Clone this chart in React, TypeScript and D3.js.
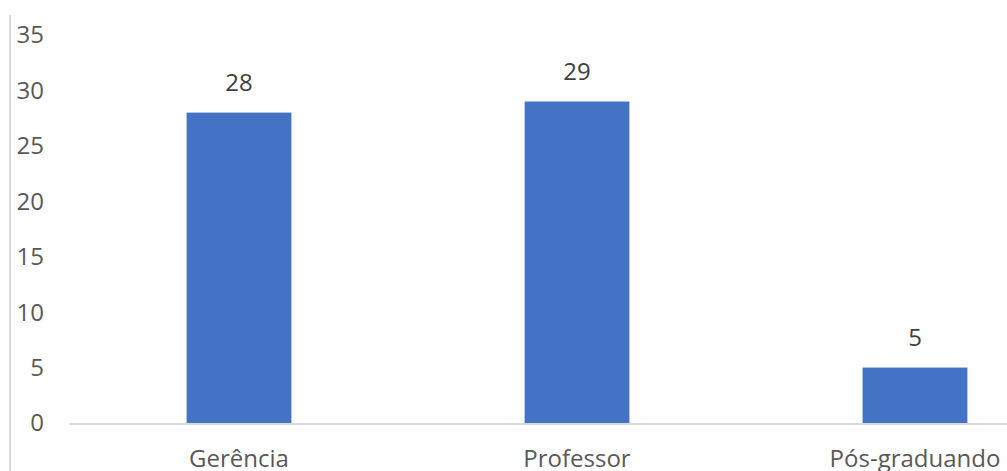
import React, { useEffect, useRef } from "react";
import * as d3 from "d3";

const categories = ["Gerência", "Professor", "Pós-graduando"];
const values = [28, 29, 5];
const yTicks = [0, 5, 10, 15, 20, 25, 30, 35];

const W = 1007;
const H = 471;

export default function App() {
  const ref = useRef<SVGSVGElement>(null);
  useEffect(() => {
    const svg = d3.select(ref.current);
    svg.selectAll("*").remove();
    const font = "'Open Sans', 'Noto Sans', sans-serif";
    const x = d3.scaleBand<string>().domain(categories).range([70, 1084]).paddingInner(0.69).paddingOuter(0.345);
    const y = d3.scaleLinear().domain([0, 35]).range([423, 35]);

    svg.append("rect").attr("width", W).attr("height", H).attr("fill", "#fff");
    svg.append("line").attr("x1", 10).attr("x2", 10).attr("y1", 15).attr("y2", H).attr("stroke", "#d9d9d9").attr("stroke-width", 2);

    svg.append("g").selectAll("text").data(yTicks).join("text")
      .attr("x", 44).attr("y", (d) => y(d)).attr("dy", "0.35em")
      .attr("text-anchor", "end").attr("font-family", font).attr("font-size", 24).attr("fill", "#595959")
      .text((d) => String(d));

    svg.append("g").selectAll("rect").data(values).join("rect")
      .attr("x", (_, i) => x(categories[i])!)
      .attr("width", x.bandwidth())
      .attr("y", (d) => y(d))
      .attr("height", (d) => y(0) - y(d))
      .attr("fill", "#4472c4");

    svg.append("line").attr("x1", 69).attr("x2", W).attr("y1", y(0) + 1).attr("y2", y(0) + 1).attr("stroke", "#d9d9d9").attr("stroke-width", 2);

    svg.append("g").selectAll("text").data(values).join("text")
      .attr("x", (_, i) => x(categories[i])! + x.bandwidth() / 2)
      .attr("y", (d) => y(d) - 30).attr("dy", "0.35em")
      .attr("text-anchor", "middle").attr("font-family", font).attr("font-size", 24).attr("fill", "#404040")
      .text((d) => String(d));

    svg.append("g").selectAll("text").data(categories).join("text")
      .attr("x", (d) => x(d)! + x.bandwidth() / 2)
      .attr("y", 459).attr("dy", "0.35em")
      .attr("text-anchor", "middle").attr("font-family", font).attr("font-size", 24).attr("fill", "#595959")
      .text((d) => d);
  }, []);
  return <svg ref={ref} width={W} height={H} style={{ position: "absolute", left: 0, top: 0 }} />;
}
